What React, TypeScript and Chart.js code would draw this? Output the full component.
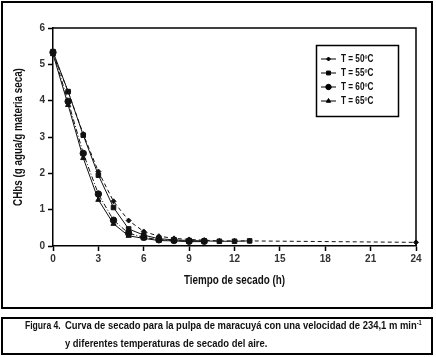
import React, { useEffect, useRef } from "react";
import { Chart, registerables } from "chart.js";
import { drawPoint } from "chart.js/helpers";

Chart.register(...registerables);

const FF = "'Liberation Sans', Arial, sans-serif";
const NARROW = 0.82;

const hours50 = [0, 1, 2, 3, 4, 5, 6, 7, 8, 9, 10, 11, 12, 13, 24];
const hours55 = [0, 1, 2, 3, 4, 5, 6, 7, 8, 9, 10, 11, 12, 13];
const hours60 = [0, 1, 2, 3, 4, 5, 6, 7, 8, 9, 10];
const hours65 = [0, 1, 2, 3, 4, 5, 6, 7, 8, 9, 10];

const chbs50 = [5.3, 4.25, 3.08, 2.05, 1.23, 0.7, 0.4, 0.27, 0.21, 0.18, 0.16, 0.14, 0.14, 0.14, 0.1];
const chbs55 = [5.35, 4.25, 3.05, 1.95, 1.06, 0.47, 0.3, 0.2, 0.17, 0.15, 0.14, 0.13, 0.13, 0.14];
const chbs60 = [5.33, 3.98, 2.55, 1.43, 0.71, 0.35, 0.24, 0.17, 0.15, 0.13, 0.13];
const chbs65 = [5.28, 3.88, 2.42, 1.27, 0.61, 0.28, 0.21, 0.15, 0.14, 0.12, 0.12];

const seriesLabels = ["T = 50ºC", "T = 55ºC", "T = 60ºC", "T = 65ºC"];
const xTicks = [0, 3, 6, 9, 12, 15, 18, 21, 24];
const yTicks = [0, 1, 2, 3, 4, 5, 6];
const xTitle = "Tiempo de secado (h)";
const yTitle = "CHbs (g agua/g materia seca)";

const toPts = (xs: number[], ys: number[]) => xs.map((x, i) => ({ x, y: ys[i] }));

const styles = [
  { pointStyle: "rectRot", radius: 2.5, dash: [4, 3] },
  { pointStyle: "rect", radius: 3.2, dash: [] },
  { pointStyle: "circle", radius: 3.2, dash: [5, 2, 1, 2] },
  { pointStyle: "triangle", radius: 3, dash: [] },
];

function narrowText(ctx: CanvasRenderingContext2D, text: string, x: number, y: number, font: string, align: CanvasTextAlign, rot = 0) {
  ctx.save();
  ctx.translate(x, y);
  if (rot) ctx.rotate(rot);
  ctx.scale(NARROW, 1);
  ctx.font = font;
  ctx.fillStyle = "#111";
  ctx.textAlign = align;
  ctx.textBaseline = "middle";
  ctx.fillText(text, 0, 0);
  ctx.restore();
}

const boxPlugin = {
  id: "boxPlugin",
  afterDraw(chart: any) {
    const { ctx, chartArea } = chart;
    const { left, top, right, bottom } = chartArea;
    ctx.save();
    ctx.strokeStyle = "#000";
    ctx.lineWidth = 1.5;
    ctx.beginPath();
    ctx.moveTo(left, top);
    ctx.lineTo(right, top);
    ctx.lineTo(right, bottom);
    ctx.stroke();

    // axis titles
    narrowText(ctx, xTitle, (left + right) / 2, 281, `bold 12px ${FF}`, "center");
    narrowText(ctx, yTitle, 19, 137, `bold 12px ${FF}`, "center", -Math.PI / 2);

    // legend
    ctx.lineWidth = 1.5;
    ctx.strokeRect(316.5, 45.5, 82, 71);
    const ys = [59, 73, 87, 101];
    chart.data.datasets.forEach((ds: any, i: number) => {
      const y = ys[i];
      ctx.save();
      ctx.lineWidth = 1;
      ctx.strokeStyle = "#000";
      ctx.beginPath();
      ctx.moveTo(321, y);
      ctx.lineTo(336, y);
      ctx.stroke();
      ctx.fillStyle = "#000";
      drawPoint(ctx, { pointStyle: styles[i].pointStyle, radius: styles[i].radius - 0.5, borderWidth: 1, rotation: 0 } as any, 328.5, y);
      ctx.restore();
      narrowText(ctx, ds.label, 341, y + 0.5, `bold 10px ${FF}`, "left");
    });
    ctx.restore();
  },
};

function ChartView() {
  const ref = useRef<HTMLCanvasElement | null>(null);
  useEffect(() => {
    if (!ref.current) return;
    const all = [
      toPts(hours50, chbs50),
      toPts(hours55, chbs55),
      toPts(hours60, chbs60),
      toPts(hours65, chbs65),
    ];
    const chart = new Chart(ref.current, {
      type: "line",
      data: {
        datasets: all.map((d, i) => ({
          label: seriesLabels[i],
          data: d,
          borderColor: "#111",
          backgroundColor: "#111",
          pointBackgroundColor: "#111",
          pointBorderColor: "#111",
          borderWidth: 1,
          borderDash: styles[i].dash,
          pointStyle: styles[i].pointStyle as any,
          pointRadius: styles[i].radius,
          tension: 0,
          clip: false as any,
        })),
      },
      options: {
        animation: false,
        responsive: false,
        maintainAspectRatio: false,
        layout: { padding: { left: 0, top: 28, right: 20, bottom: 0 } },
        plugins: { legend: { display: false }, tooltip: { enabled: false } },
        scales: {
          x: {
            type: "linear",
            min: 0,
            max: 24,
            afterFit: (s: any) => { s.height = 64; },
            afterBuildTicks: (s: any) => { s.ticks = xTicks.map((v) => ({ value: v })); },
            grid: { drawOnChartArea: false, drawTicks: true, tickLength: 5, tickColor: "#000", tickWidth: 1.5 },
            border: { display: true, color: "#000", width: 1.5 },
            ticks: { color: "#333", font: { family: FF, size: 10, weight: "bold" }, padding: 2, maxRotation: 0 },
            title: { display: false },
          },
          y: {
            type: "linear",
            min: 0,
            max: 6,
            afterFit: (s: any) => { s.width = 53; },
            afterBuildTicks: (s: any) => { s.ticks = yTicks.map((v) => ({ value: v })); },
            grid: { drawOnChartArea: false, drawTicks: true, tickLength: 5, tickColor: "#000", tickWidth: 1.5 },
            border: { display: true, color: "#000", width: 1.5 },
            ticks: { color: "#333", font: { family: FF, size: 10, weight: "bold" }, padding: 3 },
            title: { display: false },
          },
        },
      },
      plugins: [boxPlugin],
    });
    return () => chart.destroy();
  }, []);
  return <canvas ref={ref} width={436} height={310} style={{ position: "absolute", left: 0, top: 0, width: 436, height: 310 }} />;
}

export default function App() {
  const capFont: React.CSSProperties = {
    fontFamily: FF, fontWeight: "bold", fontSize: 11.5, color: "#111", position: "absolute",
    whiteSpace: "nowrap", lineHeight: "13px", transform: `scaleX(${NARROW})`, transformOrigin: "left center",
  };
  return (
    <div style={{ position: "absolute", left: 0, top: 0, width: 436, height: 357, background: "#fff", overflow: "hidden" }}>
      <ChartView />
      <div style={{ position: "absolute", left: 1, top: 1, width: 432, height: 308, border: "2px solid #000", boxSizing: "border-box", pointerEvents: "none" }} />
      <div style={{ position: "absolute", left: 1, top: 317, width: 432, height: 38, border: "2px solid #000", boxSizing: "border-box" }} />
      <div style={{ ...capFont, fontSize: 11, transform: "scaleX(0.78)", left: 25, top: 319 }}>Figura 4.</div>
      <div style={{ ...capFont, left: 65, top: 319 }}>
        Curva de secado para la pulpa de maracuyá con una velocidad de 234,1 m min<sup style={{ fontSize: 7, verticalAlign: "top", lineHeight: "8px" }}>-1</sup>
      </div>
      <div style={{ ...capFont, left: 65, top: 337 }}>y diferentes temperaturas de secado del aire.</div>
    </div>
  );
}
